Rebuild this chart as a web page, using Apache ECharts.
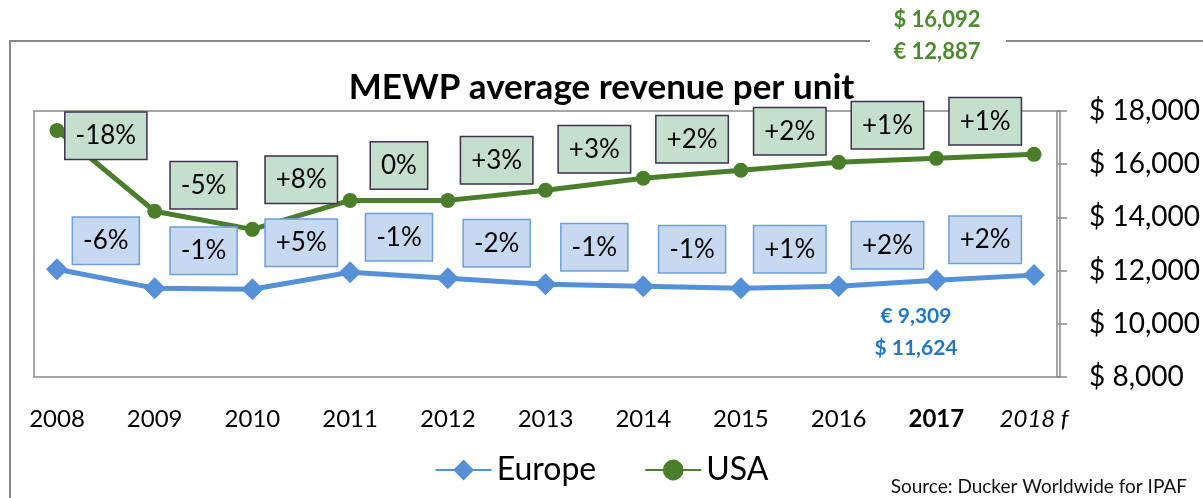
<!DOCTYPE html>
<html>
<head>
<meta charset="utf-8">
<script src="https://cdn.jsdelivr.net/npm/echarts@6/dist/echarts.min.js"></script>
<style>
html,body{margin:0;padding:0;background:#fff}
#main{width:1203px;height:498px}
</style>
</head>
<body>
<div id="main"></div>
<script>
// values
var years = ['2008', '2009', '2010', '2011', '2012', '2013', '2014', '2015', '2016', '2017', '2018 f'];
var europe = [12050, 11340, 11300, 11940, 11710, 11490, 11415, 11340, 11415, 11640, 11830];
var usa = [17270, 14230, 13550, 14640, 14640, 15020, 15470, 15770, 16070, 16220, 16370];
var europeChange = ['-6%', '-1%', '+5%', '-1%', '-2%', '-1%', '-1%', '+1%', '+2%', '+2%'];
var usaChange = ['-18%', '-5%', '+8%', '0%', '+3%', '+3%', '+2%', '+2%', '+1%', '+1%'];

var FONT = 'Lato, "Open Sans", sans-serif';
var GREEN = '#4a7e2b';
var BLUE = '#5590d8';
var GRAY = '#898989';

// change boxes sit half way between two years
function midPoints(values) {
    return values.slice(1).map(function (v, i) {
        return [i + 0.5, (values[i] + v) / 2];
    });
}

function boxLabel(texts, fill, border, dy) {
    return {
        show: true,
        position: 'inside',
        offset: [0, dy],
        formatter: function (p) { return texts[p.dataIndex]; },
        fontFamily: FONT,
        fontSize: 26,
        color: '#000',
        backgroundColor: fill,
        borderColor: border,
        borderWidth: 1.5,
        padding: [10, 10, 10, 10]
    };
}

option = {
    backgroundColor: '#fff',
    animation: false,
    title: {
        text: 'MEWP average revenue per unit',
        left: 'center',
        top: 65,
        textStyle: {fontFamily: FONT, fontSize: 35, fontWeight: 'bold', color: '#000'}
    },
    legend: {
        data: ['Europe', 'USA'],
        top: 449,
        left: 'center',
        itemWidth: 56,
        itemHeight: 26,
        itemGap: 48,
        textStyle: {fontFamily: FONT, fontSize: 32, color: '#000'}
    },
    grid: [
        {left: 57, right: 166, top: 111, bottom: 121},
        {left: 34, right: 143, top: 111, bottom: 121, show: true,
         borderColor: GRAY, borderWidth: 1.5, backgroundColor: 'transparent'}
    ],
    xAxis: [
        {
            type: 'category',
            gridIndex: 0,
            boundaryGap: false,
            data: years,
            axisLine: {show: false},
            axisTick: {show: false},
            axisLabel: {
                interval: 0,
                margin: 30,
                fontFamily: FONT,
                fontSize: 24,
                color: '#000',
                formatter: function (v) {
                    if (v === '2017') return '{b|' + v + '}';
                    if (v === '2018 f') return '{i|' + v + '}';
                    return v;
                },
                rich: {
                    b: {fontFamily: FONT, fontSize: 24, fontWeight: 'bold', color: '#000'},
                    i: {fontFamily: FONT, fontSize: 24, fontStyle: 'italic', color: '#000'}
                }
            }
        },
        {type: 'value', gridIndex: 0, min: 0, max: 10, show: false},
        {type: 'value', gridIndex: 1, show: false}
    ],
    yAxis: [
        {
            type: 'value',
            gridIndex: 0,
            position: 'right',
            offset: 23,
            min: 8000,
            max: 18000,
            interval: 2000,
            axisLine: {show: true, onZero: false, lineStyle: {color: GRAY, width: 1.5}},
            axisTick: {show: true, length: 10, lineStyle: {color: GRAY, width: 1.5}},
            splitLine: {show: false},
            axisLabel: {
                margin: 32,
                fontFamily: FONT,
                fontSize: 28,
                color: '#000',
                formatter: function (v) { return '$ ' + v.toLocaleString('en-US'); }
            }
        },
        {type: 'value', gridIndex: 1, show: false}
    ],
    series: [
        {
            name: 'Europe',
            type: 'line',
            data: europe,
            symbol: 'diamond',
            symbolSize: 22,
            lineStyle: {color: BLUE, width: 5},
            itemStyle: {color: BLUE},
            z: 2
        },
        {
            name: 'USA',
            type: 'line',
            data: usa,
            symbol: 'circle',
            symbolSize: 15,
            lineStyle: {color: GREEN, width: 5},
            itemStyle: {color: GREEN},
            z: 2
        },
        {
            name: 'europeBoxes',
            type: 'scatter',
            xAxisIndex: 1,
            data: midPoints(europe),
            symbolSize: 0,
            silent: true,
            z: 5,
            itemStyle: {opacity: 1},
            label: boxLabel(europeChange, '#c6d9f1', '#6e9fdc', -38)
        },
        {
            name: 'usaBoxes',
            type: 'scatter',
            xAxisIndex: 1,
            data: midPoints(usa),
            symbolSize: 0,
            silent: true,
            z: 5,
            itemStyle: {opacity: 1},
            label: boxLabel(usaChange, '#c4dfcb', '#3f3151', -35)
        }
    ],
    graphic: [
        {type: 'polyline', shape: {points: [[870, 41], [10, 41], [10, 498]]},
         style: {stroke: GRAY, lineWidth: 2, fill: null}},
        {type: 'line', shape: {x1: 1006, y1: 41, x2: 1203, y2: 41},
         style: {stroke: GRAY, lineWidth: 2}},
        {type: 'text', x: 937, y: 20, style: {text: '$ 16,092', fill: '#4e8a30',
         font: 'bold 22px ' + FONT, textAlign: 'center', textVerticalAlign: 'middle'}},
        {type: 'text', x: 937, y: 52, style: {text: '€ 12,887', fill: '#4e8a30',
         font: 'bold 22px ' + FONT, textAlign: 'center', textVerticalAlign: 'middle'}},
        {type: 'text', x: 916, y: 316, style: {text: '€ 9,309', fill: '#1f78c8',
         font: 'bold 21px ' + FONT, textAlign: 'center', textVerticalAlign: 'middle'}},
        {type: 'text', x: 916, y: 348, style: {text: '$ 11,624', fill: '#1f78c8',
         font: 'bold 21px ' + FONT, textAlign: 'center', textVerticalAlign: 'middle'}},
        {type: 'text', x: 1187, y: 487, style: {text: 'Source: Ducker Worldwide for IPAF', fill: '#111',
         font: '19px ' + FONT, textAlign: 'right', textVerticalAlign: 'middle'}}
    ]
};

var dom = document.getElementById('main');
var myChart = echarts.init(dom);
myChart.setOption(option);
</script>
</body>
</html>
